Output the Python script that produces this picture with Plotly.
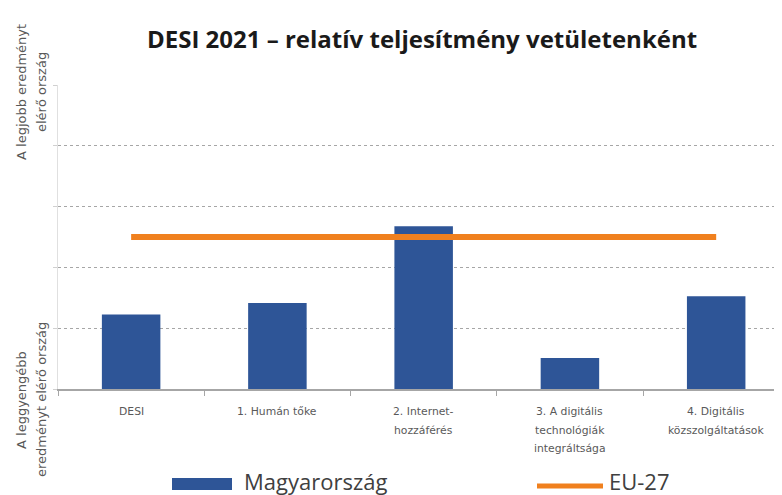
import plotly.graph_objects as go

# ---- data ----
categories = ["DESI", "1. Humán tőke", "2. Internet-hozzáférés",
              "3. A digitális technológiák integráltsága", "4. Digitális közszolgáltatások"]
tick_labels = [["DESI"], ["1. Humán tőke"], ["2. Internet-", "hozzáférés"],
               ["3. A digitális", "technológiák", "integráltsága"],
               ["4. Digitális", "közszolgáltatások"]]
hungary = [24.5, 28.3, 53.5, 10.2, 30.5]
eu27 = [50, 50, 50, 50, 50]
series_names = ["Magyarország", "EU-27"]
title_text = "DESI 2021 – relatív teljesítmény vetületenként"
y_top_label = ["A legjobb eredményt", "elérő ország"]
y_bottom_label = ["A leggyengébb", "eredményt elérő ország"]

BLUE = "#2E5597"
ORANGE = "#F0801E"
OFF = 8  # page offset of the figure inside the browser window
W, H = 782, 495
ML, MT = 58 - OFF, 85 - OFF
MB = H - (389 - OFF)
MR = OFF
PW, PH = W - ML - MR, H - MT - MB


def px_x(px):
    return (px - OFF - ML) / PW


def px_y(py):
    return (H - MB - (py - OFF)) / PH


fig = go.Figure()
fig.add_trace(go.Bar(x=categories, y=hungary, name=series_names[0],
                     marker=dict(color=BLUE, line=dict(width=0)), width=0.4,
                     showlegend=False))
fig.add_trace(go.Scatter(x=categories, y=eu27, name=series_names[1], mode="lines",
                         line=dict(color=ORANGE, width=6), showlegend=False))

annotations = []
# category labels (one annotation per line to reproduce line spacing)
for cat, lines in zip(categories, tick_labels):
    for j, line in enumerate(lines):
        annotations.append(dict(x=cat, xref="x", y=0, yref="paper", yanchor="top",
                                yshift=-14 - 18.5 * j, text=line, showarrow=False,
                                font=dict(family="DejaVu Sans", size=10.8, color="#595959")))

# y-axis side labels
for lines, cy in ((y_top_label, 92), (y_bottom_label, 400)):
    for j, line in enumerate(lines):
        cx = 21 + 20 * j
        annotations.append(dict(x=px_x(cx), xref="paper", y=px_y(cy), yref="paper",
                                xanchor="center", yanchor="middle", text=line,
                                textangle=-90, showarrow=False,
                                font=dict(family="DejaVu Sans", size=13, color="#595959")))

# title
annotations.append(dict(x=px_x(422), xref="paper", y=px_y(39), yref="paper",
                        xanchor="center", yanchor="middle", text="<b>" + title_text + "</b>",
                        showarrow=False,
                        font=dict(family="Open Sans", size=24, color="#1A1A1A")))

# legend texts
annotations.append(dict(x=px_x(242), xref="paper", y=px_y(481), yref="paper",
                        xanchor="left", yanchor="middle", text=series_names[0],
                        showarrow=False, font=dict(family="Open Sans", size=22, color="#404040")))
annotations.append(dict(x=px_x(607), xref="paper", y=px_y(481), yref="paper",
                        xanchor="left", yanchor="middle", text=series_names[1],
                        showarrow=False, font=dict(family="Open Sans", size=22, color="#404040")))

shapes = [
    dict(type="rect", xref="paper", yref="paper", x0=px_x(172), x1=px_x(232),
         y0=px_y(490), y1=px_y(478), fillcolor=BLUE, line=dict(width=0)),
    dict(type="line", xref="paper", yref="paper", x0=px_x(537), x1=px_x(603),
         y0=px_y(486), y1=px_y(486), line=dict(color=ORANGE, width=5)),
]

fig.update_layout(
    width=W, height=H,
    margin=dict(l=ML, r=MR, t=MT, b=MB),
    paper_bgcolor="white", plot_bgcolor="white",
    annotations=annotations, shapes=shapes,
    showlegend=False,
    xaxis=dict(type="category", range=[-0.5, 4.45], tickson="boundaries",
               ticks="outside", ticklen=5, tickcolor="#A6A6A6",
               showticklabels=False, showline=True, linecolor="#A6A6A6",
               linewidth=1.5, showgrid=False, zeroline=False, fixedrange=True),
    yaxis=dict(range=[0, 100], dtick=20, showgrid=True, gridcolor="#A6A6A6",
               griddash="dot", gridwidth=1, showticklabels=False, zeroline=False,
               showline=True, linecolor="#E0E0E0", ticks="outside", ticklen=4,
               tickcolor="#D0D0D0", fixedrange=True),
)

fig.write_html("out.html")
